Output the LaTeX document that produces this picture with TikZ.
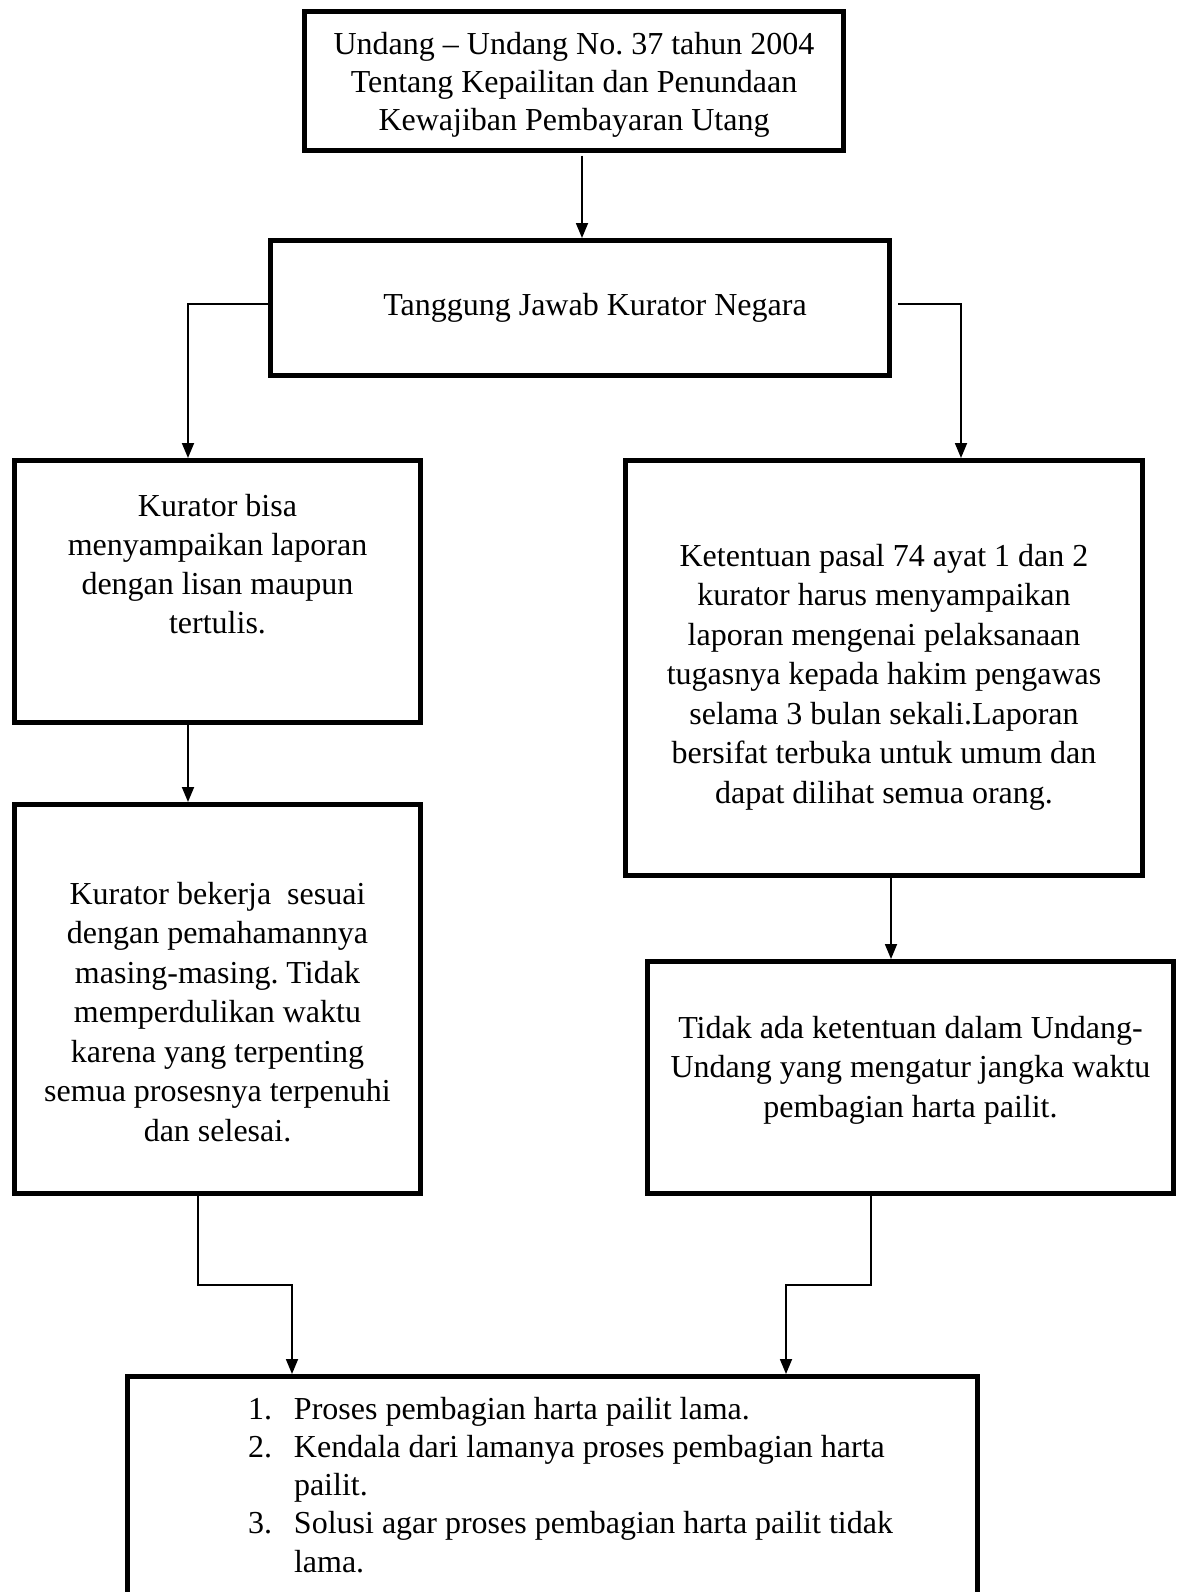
\documentclass[tikz,border=0pt]{standalone}
\usepackage{fontspec}
\setmainfont{Liberation Serif}
\usetikzlibrary{arrows.meta}
\frenchspacing
\newcommand{\boxtxt}[5]{\parbox[c][#2pt][t]{#1pt}{\fontsize{32}{#4}\selectfont\frenchspacing\centering\vspace*{#3pt}\strut #5\par}}
\tikzset{
  box/.style={draw=black, line width=5pt, inner sep=0pt, outer sep=0pt, fill=white},
  arr/.style={line width=1.8pt, -{Triangle[length=15pt,width=12pt]}, shorten >=2.5pt}
}
\begin{document}
\begin{tikzpicture}[x=1pt,y=-1pt]
\useasboundingbox (0,0) rectangle (1179,1592);
\clip (0,0) rectangle (1179,1592);
\fill[white] (0,0) rectangle (1179,1592);

\node[box] (b1) at (574,81) {\boxtxt{539}{139}{16.9}{38}{Undang -- Undang No. 37 tahun 2004\\Tentang Kepailitan dan Penundaan\\Kewajiban Pembayaran Utang}};

\node[box] (b2) at (580,308) {\boxtxt{619}{135}{47}{39.3}{\hspace*{30pt}Tanggung Jawab Kurator Negara}};

\node[box] (b3) at (217.5,591.5) {\boxtxt{406}{262}{28}{39.3}{Kurator bisa\\menyampaikan laporan\\dengan lisan maupun\\tertulis.}};

\node[box] (b4) at (217.5,999) {\boxtxt{406}{389}{72}{39.5}{Kurator bekerja~ sesuai\\dengan pemahamannya\\masing-masing. Tidak\\memperdulikan waktu\\karena yang terpenting\\semua prosesnya terpenuhi\\dan selesai.}};

\node[box] (b5) at (884,668) {\boxtxt{517}{415}{78}{39.5}{Ketentuan pasal 74 ayat 1 dan 2\\kurator harus menyampaikan\\laporan mengenai pelaksanaan\\tugasnya kepada hakim pengawas\\selama 3 bulan sekali.Laporan\\bersifat terbuka untuk umum dan\\dapat dilihat semua orang.}};

\node[box] (b6) at (910.5,1077.5) {\boxtxt{526}{232}{49}{39.5}{Tidak ada ketentuan dalam Undang-\\Undang yang mengatur jangka waktu\\pembagian harta pailit.}};

\node[box] (b7) at (552.5,1498.25) {\parbox[c][243.5pt][t]{850pt}{\fontsize{32}{38.3}\selectfont\frenchspacing\raggedright\vspace*{15.7pt}\strut
\hspace*{120.5pt}\makebox[46pt][l]{1.}Proses pembagian harta pailit lama.\\
\hspace*{120.5pt}\makebox[46pt][l]{2.}Kendala dari lamanya proses pembagian harta\\
\hspace*{166.5pt}pailit.\\
\hspace*{120.5pt}\makebox[46pt][l]{3.}Solusi agar proses pembagian harta pailit tidak\\
\hspace*{166.5pt}lama.\par}};

% connectors
\draw[arr] ([xshift=8pt,yshift=-5pt]b1.south) -- ([xshift=8pt]b1.south |- b2.north);
\draw[arr] ([yshift=4pt]b2.west) -| ([xshift=-29.5pt]b3.north);
\draw[arr] ([xshift=8.5pt,yshift=4pt]b2.east) -| ([xshift=77pt]b5.north);
\draw[arr] ([xshift=-29.5pt]b3.south) -- ([xshift=-29.5pt]b4.north);
\draw[arr] ([xshift=7pt]b5.south) -- ([xshift=7pt]b5.south |- b6.north);
\draw[arr] ([xshift=-19.5pt]b4.south) -- ++(0,91.5) -| ([xshift=-260.5pt]b7.north);
\draw[arr] ([xshift=-39.5pt]b6.south) -- ++(0,91.5) -| ([xshift=233.5pt]b7.north);
\end{tikzpicture}
\end{document}
